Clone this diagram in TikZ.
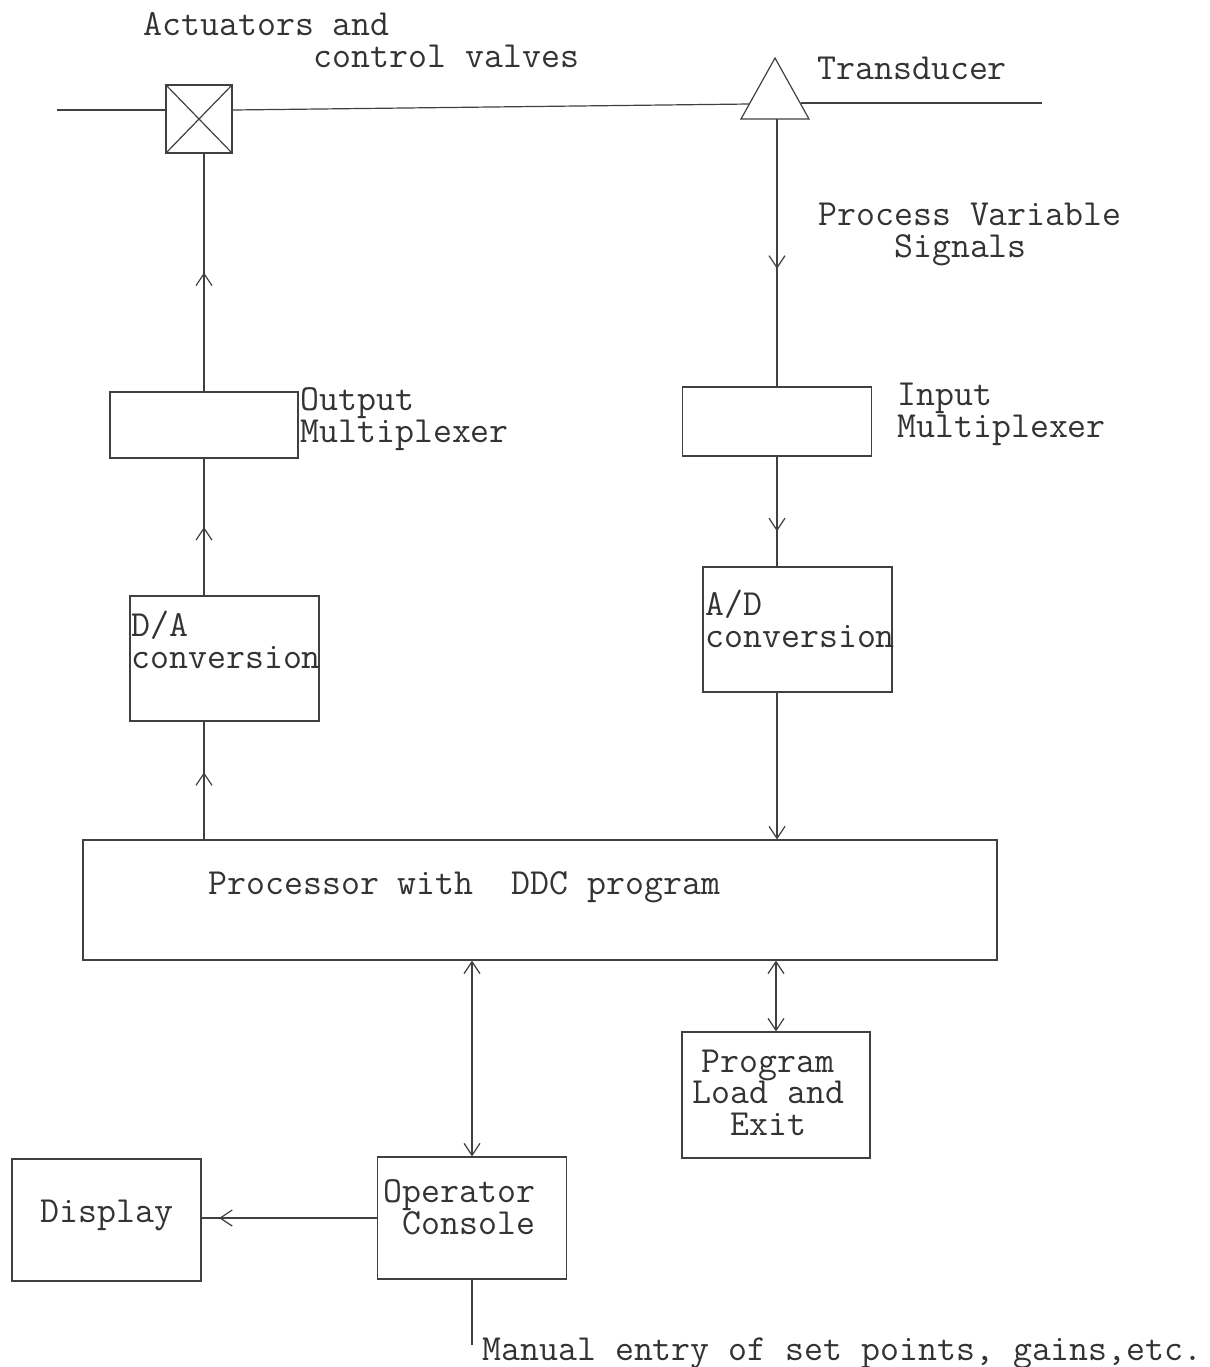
\documentclass[tikz,border=0pt]{standalone}
\usepackage{fontspec}
\usetikzlibrary{arrows.meta,decorations.markings}
\tikzset{
  >={Straight Barb[length=6pt,width=8pt]},
  ink/.style={draw=black!75,line width=0.6pt},
  blk/.style={ink,rectangle,inner sep=0pt},
  lbl/.style={anchor=base west,inner sep=0pt,text=black!80,
    font=\fontsize{18.4}{15.7}\selectfont\ttfamily},
  midarrow/.style={postaction={decorate},
    decoration={markings,mark=at position #1 with {\arrow{>}}}}
}
\begin{document}
\begin{tikzpicture}[x=0.5pt,y=-0.5pt]
\useasboundingbox (0,0) rectangle (1210,1367);

% plant: actuator valve, pipeline and transducer
\node[blk,minimum width=33pt,minimum height=34pt] (valve) at (199,119) {};
\draw[ink] (valve.north west) -- (valve.south east)
           (valve.north east) -- (valve.south west);
\coordinate (tapex) at (775,58);
\coordinate (tbl) at (741,119);
\coordinate (tbr) at (809,119);
\coordinate (tbase) at (777,119);
\draw[ink] (tapex) -- (tbl) -- (tbr) -- cycle;
\coordinate (pipeL) at (57,110);
\coordinate (pipeA) at (749,104);
\coordinate (pipeB) at (801,103);
\coordinate (pipeR) at (1042,103);
\draw[ink] (pipeL) -- (pipeL -| valve.west);
\draw[ink] (pipeL -| valve.east) -- (pipeA);
\draw[ink] (pipeB) -- (pipeR);

% interface and computer blocks
\node[blk,minimum width=94pt,minimum height=33pt] (omux) at (204,425) {};
\node[blk,minimum width=94.5pt,minimum height=62.5pt] (da) at (224.5,658.5) {};
\node[blk,minimum width=94.5pt,minimum height=34.5pt] (imux) at (777,421.5) {};
\node[blk,minimum width=94.5pt,minimum height=62.5pt] (ad) at (797.5,629.5) {};
\node[blk,minimum width=457pt,minimum height=60pt] (proc) at (540,900) {};
\node[blk,minimum width=94pt,minimum height=63pt] (prog) at (776,1095) {};
\node[blk,minimum width=94.5pt,minimum height=61pt] (cons) at (472,1218) {};
\node[blk,minimum width=94.5pt,minimum height=61pt] (disp) at (106.5,1220) {};
\coordinate (manual) at (472,1345);

% signal paths
\draw[ink,midarrow=0.5] (omux.north) -- (omux.north |- valve.south);
\draw[ink,midarrow=0.5] (omux.south |- da.north) -- (omux.south);
\draw[ink,midarrow=0.57] (omux.south |- proc.north) -- (omux.south |- da.south);
\draw[ink,midarrow=0.56] (tbase) -- (tbase |- imux.north);
\draw[ink,midarrow=0.68] (imux.south) -- (imux.south |- ad.north);
\draw[ink,->] (imux.south |- ad.south) -- (imux.south |- proc.north);
\draw[ink,<->] (cons.north |- proc.south) -- (cons.north);
\draw[ink,<->] (prog.north |- proc.south) -- (prog.north);
\draw[ink,midarrow=0.9] (cons.west) -- (cons.west -| disp.east);
\draw[ink] (cons.south) -- (manual);

% labels (multi-line ones are placed by the baseline of their last line)
\node[lbl,align=left] (t1) at (143,67) {Actuators and\\\phantom{Actuators}control valves};
\node[lbl] (t3) at (817,79) {Transducer};
\node[lbl,align=left] (t4) at (818,257) {Process Variable\\\phantom{xxxx}Signals};
\node[lbl,align=left] (t6) at (300,442) {Output\\Multiplexer};
\node[lbl,align=left] (t8) at (897,437) {Input\\Multiplexer};
\node[lbl,align=left] (t10) at (131,668) {D/A\\conversion};
\node[lbl,align=left] (t12) at (705,647) {A/D\\conversion};
\node[lbl] (t14) at (208,894) {Processor with~~DDC program};
\node[lbl,align=center] (t15) at (692,1135) {Program\\Load and\\Exit};
\node[lbl,align=left] (t18) at (383,1234) {Operator\\\phantom{x}Console};
\node[lbl] (t20) at (40,1222) {Display};
\node[lbl] (t21) at (482,1360) {Manual entry of set points, gains,etc.};
\end{tikzpicture}
\end{document}
